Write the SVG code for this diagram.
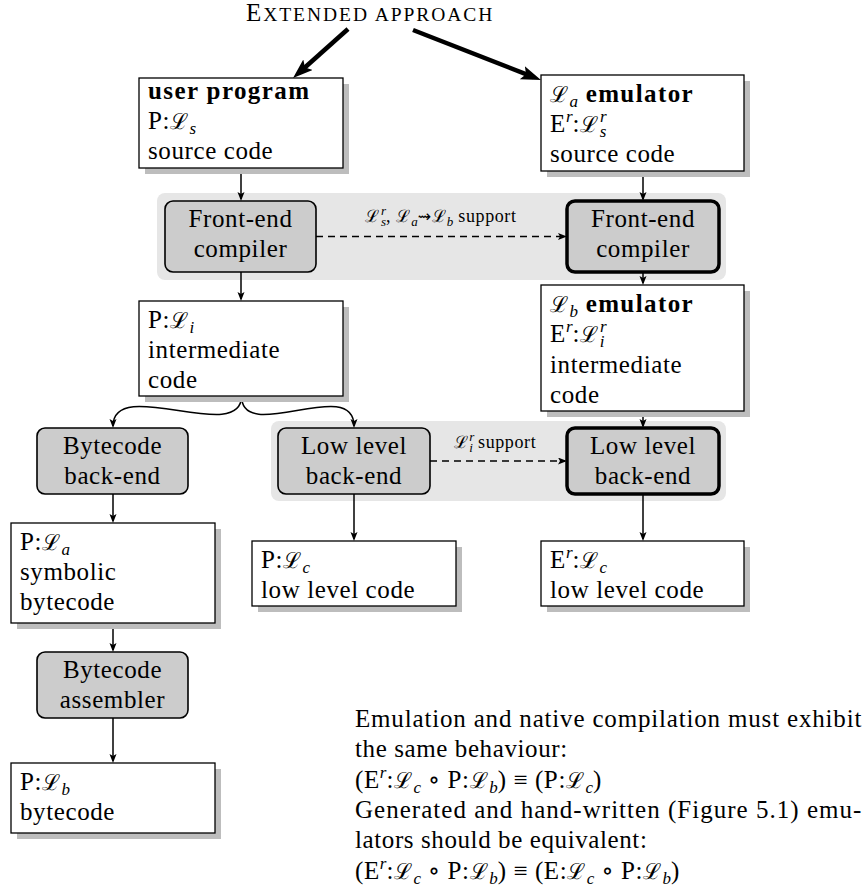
<svg xmlns="http://www.w3.org/2000/svg" width="867" height="892" viewBox="0 0 867 892">
  <style>
    .t { font-family: "Liberation Serif", "DejaVu Serif", serif; font-size: 25px; letter-spacing: 0.6px; fill: #000; }
    .b { font-weight: bold; letter-spacing: 1.4px; }
    .cal { font-family: "DejaVu Serif", serif; font-size: 22px; letter-spacing: 0; }
    .sub { font-size: 17px; font-style: italic; letter-spacing: 0; }
    .lbl { font-size: 18px; letter-spacing: 0.6px; }
    .lbl .cal { font-size: 17px; }
    .lbl .sub { font-size: 13px; }
    .mid { text-anchor: middle; }
    .box { fill: #fff; stroke: #000; stroke-width: 1.3; }
    .shadow { fill: #bdbdbd; }
    .proc { fill: #cccccc; stroke: #000; stroke-width: 1.6; }
    .heavy { stroke-width: 3.5; }
    .band { fill: #e6e6e6; }
    .conn { fill: none; stroke: #000; stroke-width: 1.5; marker-end: url(#arr); }
    .dash { stroke-dasharray: 7 5; }
    .big { fill: none; stroke: #000; stroke-width: 4.5; marker-end: url(#bigarr); }
  </style>
  <defs>
    <marker id="arr" markerUnits="userSpaceOnUse" markerWidth="10" markerHeight="8" refX="7" refY="3.5" orient="auto">
      <path d="M0,0 L9,3.5 L0,7 L2,3.5 z" fill="#000"/>
    </marker>
    <marker id="bigarr" markerUnits="userSpaceOnUse" markerWidth="22" markerHeight="16" refX="12" refY="7" orient="auto">
      <path d="M0,0 L20,7 L0,14 L4,7 z" fill="#000"/>
    </marker>
  </defs>

  <!-- background bands grouping the retargeted tools -->
  <rect class="band" x="157" y="193" width="569" height="87" rx="8"/>
  <rect class="band" x="271" y="421" width="455" height="80" rx="8"/>

  <text class="t" x="246" y="21" textLength="247" lengthAdjust="spacing">E<tspan font-size="19.5">XTENDED APPROACH</tspan></text>

  <g id="connectors">
    <path class="big" d="M348,29 L299,72.7"/>
    <path class="big" d="M413,30 L533.5,77.1"/>
    <path class="conn" d="M241,168 L241,199"/>
    <path class="conn" d="M643,171 L643,199"/>
    <path class="conn" d="M241,272 L241,299"/>
    <path class="conn" d="M643,272 L643,283"/>
    <path class="conn dash" d="M316,236.5 L565,236.5"/>
    <path class="conn" d="M241.5,396 C241.5,445 113,375 113,426"/>
    <path class="conn" d="M241.5,396 C241.5,445 354,375 354,426"/>
    <path class="conn" d="M643,411 L643,426"/>
    <path class="conn dash" d="M430,461 L565,461"/>
    <path class="conn" d="M113,494 L113,521"/>
    <path class="conn" d="M113,623 L113,650"/>
    <path class="conn" d="M113,718 L113,761"/>
    <path class="conn" d="M354,494 L354,539"/>
    <path class="conn" d="M643,494 L643,539"/>
  </g>

  <!-- edge labels -->
  <text class="t lbl mid" x="441" y="222"><tspan class="cal">ℒ</tspan><tspan class="sub" dx="1.5" dy="-7">r</tspan><tspan class="sub" dx="-5" dy="11">s</tspan><tspan dy="-4">, </tspan><tspan class="cal">ℒ</tspan><tspan class="sub" dx="1" dy="4">a</tspan><tspan dy="-4" font-family="DejaVu Sans" font-size="16">⇝</tspan><tspan class="cal">ℒ</tspan><tspan class="sub" dx="1" dy="4">b</tspan><tspan dy="-4"> support</tspan></text>
  <text class="t lbl mid" x="495" y="448"><tspan class="cal">ℒ</tspan><tspan class="sub" dx="1.5" dy="-7">r</tspan><tspan class="sub" dx="-5" dy="11">i</tspan><tspan dy="-4"> support</tspan></text>

  <g id="user-program">
    <rect class="shadow" x="145" y="84" width="204" height="90"/>
    <rect class="box" x="139" y="78" width="204" height="90"/>
    <text class="t b" x="148" y="99">user program</text>
    <text class="t" x="148" y="129">P:<tspan class="cal">ℒ</tspan><tspan class="sub" dx="1.5" dy="5">s</tspan></text>
    <text class="t" x="148" y="159">source code</text>
  </g>

  <g id="la-emulator">
    <rect class="shadow" x="547" y="81" width="203" height="96"/>
    <rect class="box" x="541" y="75" width="203" height="96"/>
    <text class="t" x="550" y="102"><tspan class="cal">ℒ</tspan><tspan class="sub" dx="1.5" dy="5">a</tspan><tspan class="b" dy="-5"> emulator</tspan></text>
    <text class="t" x="550" y="132">E<tspan class="sub" dy="-10">r</tspan><tspan dy="10">:</tspan><tspan class="cal">ℒ</tspan><tspan class="sub" dx="2" dy="-10">r</tspan><tspan class="sub" dx="-7" dy="15">s</tspan></text>
    <text class="t" x="550" y="162">source code</text>
  </g>

  <g id="frontend-user">
    <rect class="proc" x="165" y="201" width="151" height="71" rx="8"/>
    <text class="t mid" x="240.5" y="227">Front-end</text>
    <text class="t mid" x="240.5" y="257">compiler</text>
  </g>

  <g id="frontend-emulator">
    <rect class="proc heavy" x="567" y="201" width="152" height="71" rx="8"/>
    <text class="t mid" x="643" y="227">Front-end</text>
    <text class="t mid" x="643" y="257">compiler</text>
  </g>

  <g id="p-li">
    <rect class="shadow" x="145" y="307" width="204" height="95"/>
    <rect class="box" x="139" y="301" width="204" height="95"/>
    <text class="t" x="148" y="328">P:<tspan class="cal">ℒ</tspan><tspan class="sub" dx="1.5" dy="5">i</tspan></text>
    <text class="t" x="148" y="358">intermediate</text>
    <text class="t" x="148" y="388">code</text>
  </g>

  <g id="lb-emulator">
    <rect class="shadow" x="547" y="291" width="203" height="126"/>
    <rect class="box" x="541" y="285" width="203" height="126"/>
    <text class="t" x="550" y="312"><tspan class="cal">ℒ</tspan><tspan class="sub" dx="1.5" dy="5">b</tspan><tspan class="b" dy="-5"> emulator</tspan></text>
    <text class="t" x="550" y="342">E<tspan class="sub" dy="-10">r</tspan><tspan dy="10">:</tspan><tspan class="cal">ℒ</tspan><tspan class="sub" dx="2" dy="-10">r</tspan><tspan class="sub" dx="-7" dy="15">i</tspan></text>
    <text class="t" x="550" y="373">intermediate</text>
    <text class="t" x="550" y="403">code</text>
  </g>

  <g id="bytecode-backend">
    <rect class="proc" x="37" y="428" width="151" height="66" rx="8"/>
    <text class="t mid" x="112.5" y="454">Bytecode</text>
    <text class="t mid" x="112.5" y="484">back-end</text>
  </g>

  <g id="lowlevel-user">
    <rect class="proc" x="278" y="428" width="152" height="66" rx="8"/>
    <text class="t mid" x="354" y="454">Low level</text>
    <text class="t mid" x="354" y="484">back-end</text>
  </g>

  <g id="lowlevel-emulator">
    <rect class="proc heavy" x="567" y="428" width="152" height="66" rx="8"/>
    <text class="t mid" x="643" y="454">Low level</text>
    <text class="t mid" x="643" y="484">back-end</text>
  </g>

  <g id="p-la">
    <rect class="shadow" x="17" y="529" width="204" height="100"/>
    <rect class="box" x="11" y="523" width="204" height="100"/>
    <text class="t" x="20" y="550">P:<tspan class="cal">ℒ</tspan><tspan class="sub" dx="1.5" dy="5">a</tspan></text>
    <text class="t" x="20" y="580">symbolic</text>
    <text class="t" x="20" y="610">bytecode</text>
  </g>

  <g id="bytecode-assembler">
    <rect class="proc" x="37" y="652" width="151" height="66" rx="8"/>
    <text class="t mid" x="112.5" y="678">Bytecode</text>
    <text class="t mid" x="112.5" y="708">assembler</text>
  </g>

  <g id="p-lb">
    <rect class="shadow" x="17" y="769" width="204" height="70"/>
    <rect class="box" x="11" y="763" width="204" height="70"/>
    <text class="t" x="20" y="790">P:<tspan class="cal">ℒ</tspan><tspan class="sub" dx="1.5" dy="5">b</tspan></text>
    <text class="t" x="20" y="820">bytecode</text>
  </g>

  <g id="p-lc">
    <rect class="shadow" x="258" y="547" width="204" height="65"/>
    <rect class="box" x="252" y="541" width="204" height="65"/>
    <text class="t" x="261" y="568">P:<tspan class="cal">ℒ</tspan><tspan class="sub" dx="1.5" dy="5">c</tspan></text>
    <text class="t" x="261" y="598">low level code</text>
  </g>

  <g id="er-lc">
    <rect class="shadow" x="547" y="547" width="203" height="65"/>
    <rect class="box" x="541" y="541" width="203" height="65"/>
    <text class="t" x="550" y="568">E<tspan class="sub" dy="-10">r</tspan><tspan dy="10">:</tspan><tspan class="cal">ℒ</tspan><tspan class="sub" dx="1.5" dy="5">c</tspan></text>
    <text class="t" x="550" y="598">low level code</text>
  </g>

  <g id="note">
    <text class="t" x="355" y="727" textLength="507" lengthAdjust="spacing">Emulation and native compilation must exhibit</text>
    <text class="t" x="355" y="757">the same behaviour:</text>
    <text class="t" x="355" y="788">(E<tspan class="sub" dy="-10">r</tspan><tspan dy="10">:</tspan><tspan class="cal">ℒ</tspan><tspan class="sub" dx="1.5" dy="5">c</tspan><tspan dy="-5"> ∘ P:</tspan><tspan class="cal">ℒ</tspan><tspan class="sub" dx="1.5" dy="5">b</tspan><tspan dy="-5">) ≡ (P:</tspan><tspan class="cal">ℒ</tspan><tspan class="sub" dx="1.5" dy="5">c</tspan><tspan dy="-5">)</tspan></text>
    <text class="t" x="355" y="818" textLength="507" lengthAdjust="spacing">Generated and hand-written (Figure 5.1) emu-</text>
    <text class="t" x="355" y="848">lators should be equivalent:</text>
    <text class="t" x="355" y="879">(E<tspan class="sub" dy="-10">r</tspan><tspan dy="10">:</tspan><tspan class="cal">ℒ</tspan><tspan class="sub" dx="1.5" dy="5">c</tspan><tspan dy="-5"> ∘ P:</tspan><tspan class="cal">ℒ</tspan><tspan class="sub" dx="1.5" dy="5">b</tspan><tspan dy="-5">) ≡ (E:</tspan><tspan class="cal">ℒ</tspan><tspan class="sub" dx="1.5" dy="5">c</tspan><tspan dy="-5"> ∘ P:</tspan><tspan class="cal">ℒ</tspan><tspan class="sub" dx="1.5" dy="5">b</tspan><tspan dy="-5">)</tspan></text>
  </g>
</svg>
